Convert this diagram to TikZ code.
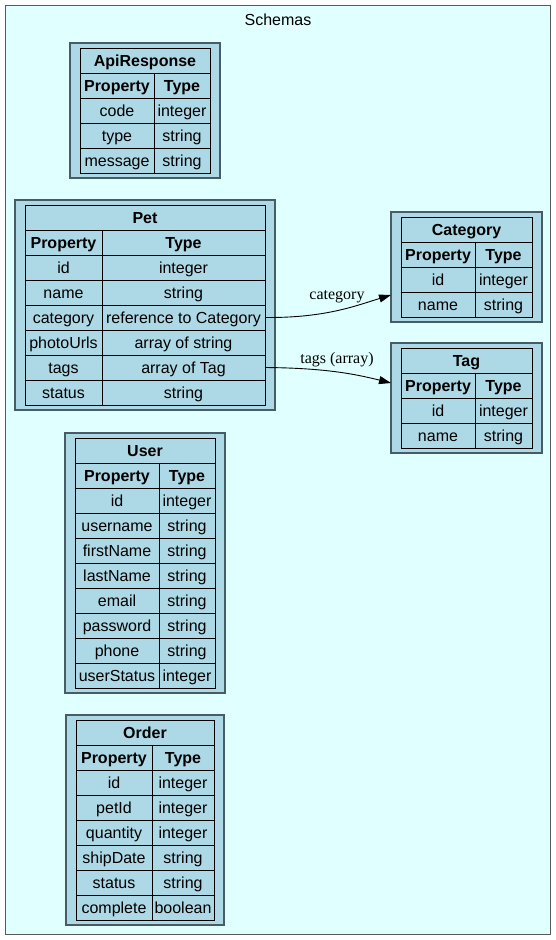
\documentclass[tikz,border=0pt]{standalone}
\usepackage{fontspec}
\setmainfont{Liberation Sans}
\newfontfamily\edgefont{Liberation Serif}
\usetikzlibrary{arrows.meta, calc}
\definecolor{schemacyan}  {RGB}{224, 255, 255}
\definecolor{schemablue}  {RGB}{173, 216, 230}
\definecolor{schemaframe} {RGB}{ 72,  92, 102}
\definecolor{clustergray} {RGB}{ 90,  90,  90}

% one schema table: name, x, y, first column, second column, rows, title, property/type list
\newcommand{\schematable}[8]{%
	\pgfmathsetmacro{\tablewidth}{#4+#5}
	\node[schemabox, minimum width=\tablewidth+20, minimum height={(#6+2)*25+10}] (#1) at ({#2-10},{#3-5}) {};
	\node[schemacell, headcell, minimum width=\tablewidth] (#1-title) at (#2,#3) {#7};
	\node[schemacell, headcell, minimum width=#4] (#1-hprop) at (#2,{#3+25}) {Property};
	\node[schemacell, headcell, minimum width=#5] (#1-htype) at ({#2+#4},{#3+25}) {Type};
	\foreach \p/\t [count=\i from 2] in {#8}{
		\node[schemacell, minimum width=#4] (#1-\p-prop) at (#2,{#3+\i*25}) {\p};
		\node[schemacell, minimum width=#5] (#1-\p-type) at ({#2+#4},{#3+\i*25}) {\t};
	}
}

\begin{document}
\begin{tikzpicture}[x=1pt, y=-1pt,
	every node/.style={font=\fontsize{16}{19}\selectfont},
	schemabox/.style={draw=schemaframe, line width=1.6pt, fill=schemablue, anchor=north west, inner sep=0pt, outer sep=0pt},
	schemacell/.style={draw=black, line width=1pt, anchor=north west, inner sep=0pt, outer sep=0pt,
		minimum height=25, text height=13pt, text depth=1.8pt},
	headcell/.style={font=\fontsize{16}{19}\selectfont\bfseries},
	schemaedge/.style={line width=0.9pt, -{Triangle[length=12pt, width=8pt]}},
	edgelabel/.style={font=\edgefont\fontsize{16}{19}\selectfont, inner sep=2pt}
	]
	\useasboundingbox (0,0) rectangle (556,940);
	\draw[clustergray, line width=1pt, fill=schemacyan] (5.5,5.5) rectangle (550.5,934.5);
	\node (clustertitle) at (278,20) {Schemas};

	\schematable{api}{80}{48}{74}{56}{3}{ApiResponse}{code/integer, type/string, message/string}
	\schematable{pet}{25}{205}{77}{163}{6}{Pet}{id/integer, name/string, category/reference to Category,
		photoUrls/array of string, tags/array of Tag, status/string}
	\schematable{cat}{401}{217}{74}{57}{2}{Category}{id/integer, name/string}
	\schematable{tag}{401}{348}{74}{57}{2}{Tag}{id/integer, name/string}
	\schematable{user}{75}{438}{84}{56}{8}{User}{id/integer, username/string, firstName/string, lastName/string,
		email/string, password/string, phone/string, userStatus/integer}
	\schematable{order}{76}{720}{76}{62}{6}{Order}{id/integer, petId/integer, quantity/integer,
		shipDate/string, status/string, complete/boolean}

	% references between schemas
	\draw[schemaedge] (pet-category-type.east) .. controls (325,318) and (355,306) .. ([yshift=-28pt]cat.west)
		node[edgelabel, pos=0.5, above, yshift=5pt] {category};
	\draw[schemaedge] (pet-tags-type.east) .. controls (325,368) and (355,374) .. ([yshift=15pt]tag.west)
		node[edgelabel, pos=0.5, above, yshift=3pt] {tags (array)};
\end{tikzpicture}
\end{document}
